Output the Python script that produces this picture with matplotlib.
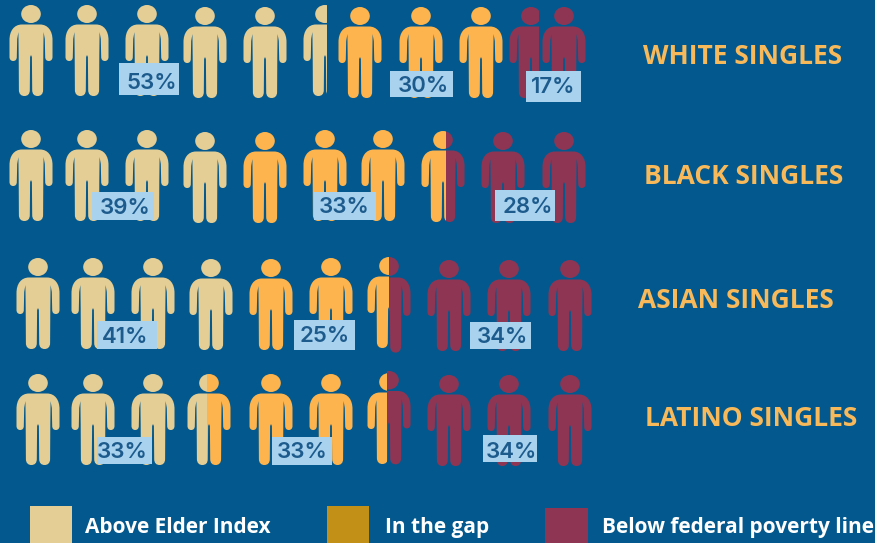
import numpy as np
import matplotlib
matplotlib.use("Agg")
import matplotlib.pyplot as plt
from matplotlib.path import Path
from matplotlib.patches import PathPatch, Rectangle
from matplotlib.transforms import Affine2D

# data
groups = ["WHITE SINGLES", "BLACK SINGLES", "ASIAN SINGLES", "LATINO SINGLES"]
above = [53, 39, 41, 33]
gap = [30, 33, 25, 33]
below = [17, 28, 34, 34]
legend_labels = ["Above Elder Index", "In the gap", "Below federal poverty line"]

# one letter per icon: A above, G gap, B below, a/b cut off on the right, / two colours
icons_white = ["A", "A", "A", "A", "A", "a", "G", "G", "G", "b", "B"]
icons_black = ["A", "A", "A", "A", "G", "G", "G", "G/B", "B", "B"]
icons_asian = ["A", "A", "A", "A", "G", "G", "G/B", "B", "B", "B"]
icons_latino = ["A", "A", "A", "A/G", "G", "G", "G/B", "B", "B", "B"]
row_icons = [icons_white, icons_black, icons_asian, icons_latino]

# layout, in pixels of the 875x543 picture
W, H = 875, 543
row_x = [
    [31, 87, 147, 205, 265, 325, 360, 421, 481, 531, 564],
    [31, 87, 147, 205, 265, 325, 383, 443, 503, 564],
    [38, 93, 153, 211, 271, 331, 389, 449, 509, 570],
    [38, 93, 153, 209, 271, 331, 389, 449, 509, 570],
]
row_top = [
    [5, 5, 5, 7, 7, 5, 7, 7, 7, 7, 7],
    [130, 130, 130, 132, 132, 130, 130, 131, 132, 132],
    [258, 258, 258, 259, 259, 258, 257, 260, 260, 260],
    [374, 374, 374, 374, 374, 374, 373, 375, 375, 375],
]
# x where a cut or two-colour icon changes, keyed by (row, icon)
splits = {(0, 5): 327, (0, 9): 539, (1, 7): 446, (2, 6): 389, (3, 3): 207, (3, 6): 387}
# the right half of these sits higher and runs longer: (top, stretch)
right_half = {(2, 6): (257, 1.05), (3, 6): (371, 1.025)}
box_left = [[119, 390, 526], [92, 314, 495], [97, 294, 470], [97, 272, 483]]
box_right = [[179, 453, 581], [154, 376, 555], [157, 355, 531], [152, 332, 537]]
box_top = [[63, 71, 71], [192, 192, 190], [321, 320, 322], [437, 437, 435]]
box_bottom = [[95, 97, 102], [220, 220, 221], [349, 350, 349], [464, 465, 462]]
label_x = [[152, 423, 553], [125, 344, 528], [125, 325, 502], [122, 302, 511]]
label_y = [[81, 84, 85], [206, 205, 205], [335, 334, 335], [450, 450, 450]]
title_x = [743, 744, 736, 751]
title_y = [54, 174, 297, 416]
swatch_x = [30, 327, 545]
swatch_w = [42, 42, 43]
swatch_top = [506, 506, 508]
legend_x = [85, 385, 602]

BG = "#03598D"
CREAM = "#E5CE95"
ORANGE = "#FDB44E"
TITLE = "#F8B95A"
PURPLE = "#8F3554"
GAP_SWATCH = "#C29016"
BOX = "#A8D2EE"
BOX_TEXT = "#1D5B8D"
COLORS = {"A": CREAM, "G": ORANGE, "B": PURPLE, "a": CREAM, "b": PURPLE}

plt.rcParams["font.family"] = ["Inter", "DejaVu Sans"]


def person_path():
    # right half of the body, head top at y=0, y going down
    verts = [(0, 19.5), (9, 19.5),
             (17, 19.5), (21.5, 26), (21.5, 35),
             (21.5, 52),
             (21.5, 54.5), (20, 56), (17.8, 56),
             (15.6, 56), (14.2, 54.5), (14.2, 52),
             (13.8, 34), (12.6, 27), (12.3, 50), (12.1, 85),
             (12.1, 89), (9.8, 91), (6.7, 91),
             (3.2, 91), (1.2, 89), (1.2, 85),
             (0.9, 52), (0, 50)]
    codes = [Path.MOVETO, Path.LINETO,
             Path.CURVE4, Path.CURVE4, Path.CURVE4,
             Path.LINETO,
             Path.CURVE4, Path.CURVE4, Path.CURVE4,
             Path.CURVE4, Path.CURVE4, Path.CURVE4,
             Path.LINETO, Path.LINETO, Path.LINETO, Path.LINETO,
             Path.CURVE4, Path.CURVE4, Path.CURVE4,
             Path.CURVE4, Path.CURVE4, Path.CURVE4,
             Path.LINETO, Path.LINETO]
    # mirror for the left half, walking back up
    left_v = [(-v[0], v[1]) for v in verts[::-1][1:]]
    left_c = codes[::-1][:-1]
    body = Path(verts + left_v + [(0, 19.5)], codes + left_c + [Path.CLOSEPOLY])
    head = Path.unit_circle().transformed(Affine2D().scale(9.8, 9).translate(0, 9))
    return Path.make_compound_path(body, head)


PERSON = person_path()


def draw_person(ax, x, top, color, x0=None, x1=None, stretch=1.0):
    tr = Affine2D().scale(1, stretch).translate(x, top) + ax.transData
    p = PathPatch(PERSON, facecolor=color, edgecolor="none", transform=tr, zorder=2)
    ax.add_patch(p)
    if x0 is not None or x1 is not None:
        x0 = 0 if x0 is None else x0
        x1 = W if x1 is None else x1
        clip = Rectangle((x0, 0), x1 - x0, H, transform=ax.transData)
        p.set_clip_path(clip)


fig = plt.figure(figsize=(W / 100, H / 100), dpi=100, facecolor=BG)
ax = fig.add_axes([0, 0, 1, 1])
ax.set_xlim(0, W)
ax.set_ylim(H, 0)
ax.axis("off")

for r, icons in enumerate(row_icons):
    for n, (kind, x, top) in enumerate(zip(icons, row_x[r], row_top[r])):
        if kind in ("a", "b"):
            draw_person(ax, x, top, COLORS[kind], x1=splits[(r, n)])
        elif "/" in kind:
            left, right = kind.split("/")
            s = splits[(r, n)]
            rtop, st = right_half.get((r, n), (top, 1.0))
            draw_person(ax, x, top, COLORS[left], x1=s)
            draw_person(ax, x, rtop, COLORS[right], x0=s, stretch=st)
        else:
            draw_person(ax, x, top, COLORS[kind])

    values = [above[r], gap[r], below[r]]
    for i, val in enumerate(values):
        l, rt = box_left[r][i], box_right[r][i]
        t, b = box_top[r][i], box_bottom[r][i]
        ax.add_patch(Rectangle((l, t), rt - l, b - t, facecolor=BOX, edgecolor="none", zorder=3))
        ax.text(label_x[r][i], label_y[r][i], f"{val}%", color=BOX_TEXT, fontsize=16,
                fontweight="semibold", ha="center", va="center_baseline", zorder=4)

    ax.text(title_x[r], title_y[r], groups[r], color=TITLE, fontsize=19, fontweight="bold",
            family=["Open Sans", "DejaVu Sans"], ha="center", va="center_baseline")

for i, lab in enumerate(legend_labels):
    col = [CREAM, GAP_SWATCH, PURPLE][i]
    ax.add_patch(Rectangle((swatch_x[i], swatch_top[i]), swatch_w[i], H - swatch_top[i],
                           facecolor=col, edgecolor="none"))
    ax.text(legend_x[i], 525, lab, color="white", fontsize=15, fontweight="bold",
            family=["Open Sans", "DejaVu Sans"], ha="left", va="center_baseline")

fig.savefig("out.png", dpi=100, facecolor=BG)
